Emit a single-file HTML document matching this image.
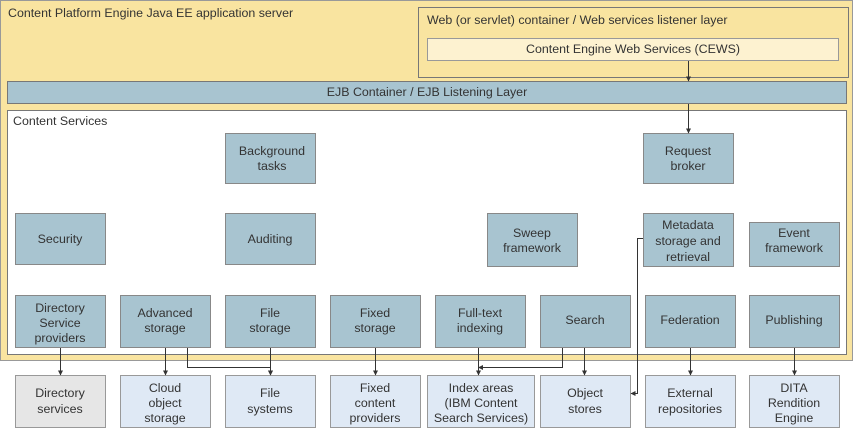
<!DOCTYPE html>
<html><head><style>body{margin:0;background:#fff}svg{display:block}text{font-family:"Liberation Sans",sans-serif;font-size:12.4px;fill:#333}</style></head><body>
<svg width="854" height="428" viewBox="0 0 854 428" xmlns="http://www.w3.org/2000/svg">
<defs><marker id="a" markerWidth="5" markerHeight="5" refX="4.5" refY="2.5" orient="auto"><path d="M0,0L5,2.5L0,5z" fill="#333"/></marker></defs>
<rect x="0.5" y="0.5" width="852" height="360" fill="#f9e4a0" stroke="#999"/>
<text x="8" y="17" font-size="13.6">Content Platform Engine Java EE application server</text>
<rect x="418.5" y="7.5" width="430" height="70" fill="#f9e4a0" stroke="#777"/>
<text x="427" y="24">Web (or servlet) container / Web services listener layer</text>
<rect x="427.5" y="38.5" width="411" height="22" fill="#fdf2d0" stroke="#999"/>
<text x="633" y="53" text-anchor="middle">Content Engine Web Services (CEWS)</text>
<rect x="7.5" y="81.5" width="839" height="22" fill="#a8c4d0" stroke="#777"/>
<text x="427" y="96" text-anchor="middle">EJB Container / EJB Listening Layer</text>
<rect x="7.5" y="110.5" width="839" height="244" fill="#fff" stroke="#777"/>
<text x="13" y="125">Content Services</text>
<g fill="#a8c4d0" stroke="#888">
<rect x="225.5" y="133.5" width="90" height="50"/><rect x="643.5" y="133.5" width="90" height="50"/>
<rect x="15.5" y="213.5" width="90" height="51"/><rect x="225.5" y="213.5" width="90" height="51"/>
<rect x="487.5" y="213.5" width="90" height="53"/><rect x="643.5" y="213.5" width="90" height="53"/><rect x="749.5" y="222.5" width="90" height="44"/>
<rect x="15.5" y="295.5" width="90" height="52"/><rect x="120.5" y="295.5" width="90" height="52"/><rect x="225.5" y="295.5" width="90" height="52"/><rect x="330.5" y="295.5" width="90" height="52"/><rect x="435.5" y="295.5" width="90" height="52"/><rect x="540.5" y="295.5" width="90" height="52"/><rect x="645.5" y="295.5" width="90" height="52"/><rect x="749.5" y="295.5" width="90" height="52"/>
</g>
<g fill="#dfe9f5" stroke="#999">
<rect x="15.5" y="375.5" width="90" height="52" fill="#e6e6e6"/><rect x="120.5" y="375.5" width="90" height="52"/><rect x="225.5" y="375.5" width="90" height="52"/><rect x="330.5" y="375.5" width="90" height="52"/><rect x="427.5" y="375.5" width="107" height="52"/><rect x="540.5" y="375.5" width="90" height="52"/><rect x="645.5" y="375.5" width="90" height="52"/><rect x="749.5" y="375.5" width="90" height="52"/>
</g>
<g text-anchor="middle">
<text x="272" y="155">Background</text><text x="272" y="170">tasks</text>
<text x="688" y="155">Request</text><text x="688" y="170">broker</text>
<text x="60" y="243">Security</text><text x="270" y="243">Auditing</text>
<text x="532" y="237">Sweep</text><text x="532" y="252">framework</text>
<text x="688" y="229">Metadata</text><text x="688" y="245">storage and</text><text x="688" y="261">retrieval</text>
<text x="794" y="237">Event</text><text x="794" y="252">framework</text>
<text x="60" y="312">Directory</text><text x="60" y="327">Service</text><text x="60" y="342">providers</text>
<text x="165" y="317">Advanced</text><text x="165" y="332">storage</text>
<text x="270" y="317">File</text><text x="270" y="332">storage</text>
<text x="375" y="317">Fixed</text><text x="375" y="332">storage</text>
<text x="480" y="317">Full-text</text><text x="480" y="332">indexing</text>
<text x="585" y="324">Search</text><text x="690" y="324">Federation</text><text x="794" y="324">Publishing</text>
<text x="60" y="397">Directory</text><text x="60" y="413">services</text>
<text x="165" y="392">Cloud</text><text x="165" y="407">object</text><text x="165" y="422">storage</text>
<text x="270" y="397">File</text><text x="270" y="413">systems</text>
<text x="375" y="392">Fixed</text><text x="375" y="407">content</text><text x="375" y="422">providers</text>
<text x="481" y="392">Index areas</text><text x="481" y="407">(IBM Content</text><text x="481" y="422">Search Services)</text>
<text x="585" y="397">Object</text><text x="585" y="413">stores</text>
<text x="690" y="397">External</text><text x="690" y="413">repositories</text>
<text x="794" y="392">DITA</text><text x="794" y="407">Rendition</text><text x="794" y="422">Engine</text>
</g>
<g stroke="#333" fill="none" marker-end="url(#a)">
<path d="M688.5 61V81"/><path d="M688.5 104V133"/>
<path d="M60.5 348V375"/><path d="M165.5 348V375"/><path d="M187.5 348V367.5H270.5V375"/><path d="M270.5 348V375"/><path d="M375.5 348V375"/>
<path d="M478.5 348V375"/><path d="M562.5 348V367.5H478.5"/><path d="M584.5 348V375"/>
<path d="M643 238.5H637.5V393.5H631"/><path d="M690.5 348V375"/><path d="M794.5 348V375"/>
</g>
</svg>
</body></html>
